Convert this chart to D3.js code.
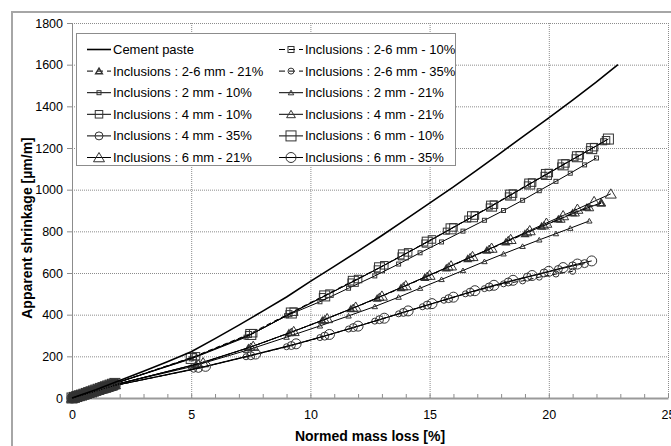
<!DOCTYPE html>
<html>
<head>
<meta charset="utf-8">
<script src="https://cdn.jsdelivr.net/npm/d3@7"></script>
<style>
  body { margin: 0; background: #fff; }
  svg text { font-family: Arial, "Liberation Sans", sans-serif; fill: #000; }
</style>
</head>
<body>
<script>
const width = 671, height = 446;
const margin = { top: 23, right: 3, bottom: 48, left: 72 };

const xTicks = [0, 5, 10, 15, 20, 25];
const yTicks = [0, 200, 400, 600, 800, 1000, 1200, 1400, 1600, 1800];
const xAxisLabel = 'Normed mass loss [%]';
const yAxisLabel = 'Apparent shrinkage [µm/m]';

// cement paste, no markers
const cementX = [0, 1, 2, 3, 4, 5, 6, 7, 8, 9, 10, 11, 12, 13, 14, 15, 16, 17, 18, 19, 20, 21, 22, 22.9];
const cementY = [0, 40, 84, 128, 174, 222, 285, 350, 417, 485, 560, 632, 705, 780, 857, 935, 1013, 1095, 1178, 1262, 1345, 1430, 1517, 1600];

// first drying points (dense), same for every mix of a group
const startX = [0, 0.1, 0.2, 0.3, 0.4, 0.5, 0.6, 0.7, 0.8, 0.9, 1.0, 1.1, 1.2, 1.3, 1.4, 1.5, 1.6, 1.7, 1.8];
const startSquare = [0, 3, 7, 11, 14, 18, 22, 26, 30, 34, 38, 42, 46, 50, 54, 58, 62, 66, 70];
const startTriangle = [0, 3, 6, 10, 13, 17, 20, 24, 27, 31, 35, 38, 42, 45, 49, 53, 57, 60, 64];
const startCircle = [0, 3, 6, 9, 13, 16, 19, 23, 26, 29, 33, 36, 40, 43, 47, 50, 53, 57, 60];

const inc26_10X = [5.1, 7.4, 9.1, 10.5, 11.7, 12.8, 13.8, 14.8, 15.7, 16.6, 17.5, 18.3, 19.1, 19.8, 20.5, 21.1, 21.7, 22.3];
const inc26_10Y = [198, 305, 405, 487, 557, 620, 682, 744, 801, 859, 917, 970, 1023, 1069, 1114, 1153, 1192, 1230];
const inc26_21X = [5.2, 7.4, 9.1, 10.5, 11.7, 12.8, 13.8, 14.8, 15.7, 16.6, 17.4, 18.2, 19.0, 19.7, 20.4, 21.0, 21.6, 22.2];
const inc26_21Y = [160, 240, 312, 372, 427, 478, 528, 578, 623, 668, 708, 748, 788, 824, 858, 888, 915, 935];
const inc26_35X = [5.1, 7.3, 9.0, 10.4, 11.6, 12.7, 13.7, 14.7, 15.6, 16.5, 17.3, 18.1, 18.9, 19.6, 20.3, 21.0];
const inc26_35Y = [138, 198, 246, 290, 331, 369, 404, 438, 469, 500, 525, 548, 562, 580, 595, 608];
const inc2_10X = [5.0, 7.3, 9.0, 10.4, 11.6, 12.7, 13.7, 14.6, 15.5, 16.4, 17.3, 18.1, 18.9, 19.6, 20.3, 20.9, 21.5, 22.0];
const inc2_10Y = [188, 292, 395, 462, 527, 586, 643, 697, 749, 801, 853, 900, 949, 995, 1040, 1079, 1119, 1152];
const inc2_21X = [5.0, 7.3, 9.0, 10.4, 11.6, 12.7, 13.7, 14.6, 15.5, 16.4, 17.3, 18.1, 18.9, 19.6, 20.3, 20.9, 21.7];
const inc2_21Y = [150, 228, 292, 346, 394, 439, 484, 527, 569, 612, 655, 692, 728, 759, 789, 815, 850];
const inc4_10X = [5.2, 7.6, 9.3, 10.8, 12.0, 13.1, 14.1, 15.1, 16.0, 16.9, 17.7, 18.5, 19.3, 20.0, 20.7, 21.3, 21.9, 22.4];
const inc4_10Y = [200, 311, 414, 501, 571, 637, 699, 761, 819, 876, 928, 981, 1034, 1080, 1126, 1165, 1204, 1237];
const inc4_21X = [5.3, 7.5, 9.2, 10.6, 11.8, 12.9, 13.9, 14.9, 15.8, 16.7, 17.5, 18.3, 19.1, 19.8, 20.5, 21.1, 21.7, 22.2];
const inc4_21Y = [165, 245, 316, 377, 432, 485, 535, 585, 630, 675, 715, 757, 795, 828, 860, 890, 915, 938];
const inc4_35X = [5.3, 7.5, 9.2, 10.6, 11.8, 12.9, 13.9, 14.9, 15.8, 16.7, 17.5, 18.3, 19.1, 19.8, 20.4, 21.0, 21.5];
const inc4_35Y = [142, 203, 252, 297, 338, 376, 411, 446, 477, 508, 533, 557, 580, 600, 617, 634, 645];
const inc6_10X = [5.0, 7.5, 9.2, 10.6, 11.8, 12.9, 13.9, 14.9, 15.9, 16.8, 17.6, 18.4, 19.2, 19.9, 20.6, 21.2, 21.8, 22.5];
const inc6_10Y = [190, 305, 408, 490, 560, 625, 687, 748, 812, 870, 921, 974, 1027, 1073, 1119, 1158, 1197, 1243];
const inc6_21X = [5.5, 7.6, 9.3, 10.7, 11.9, 13.0, 14.0, 15.0, 15.9, 16.8, 17.6, 18.4, 19.2, 19.9, 20.6, 21.2, 21.9, 22.6];
const inc6_21Y = [170, 249, 320, 382, 437, 490, 540, 590, 635, 680, 720, 762, 804, 840, 876, 907, 944, 980];
const inc6_35X = [5.6, 7.7, 9.4, 10.8, 12.0, 13.1, 14.1, 15.1, 16.0, 16.9, 17.7, 18.5, 19.3, 20.0, 20.6, 21.2, 21.8];
const inc6_35Y = [152, 211, 260, 305, 345, 383, 418, 453, 484, 515, 541, 565, 588, 608, 626, 643, 658];

const toPts = (xs, ys) => xs.map((v, i) => ({ x: v, y: ys[i] }));
const withStart = (sy, xs, ys) => toPts(startX, sy).concat(toPts(xs, ys));

const series = [
  { name: 'Cement paste', pts: toPts(cementX, cementY), shape: null, size: 0, dash: null, lw: 1.6 },
  { name: 'Inclusions : 2-6 mm - 10%', pts: withStart(startSquare, inc26_10X, inc26_10Y), shape: 'square', size: 6, dash: '5,3' },
  { name: 'Inclusions : 2-6 mm - 21%', pts: withStart(startTriangle, inc26_21X, inc26_21Y), shape: 'triangle', size: 6, dash: '5,3', mw: 1.5 },
  { name: 'Inclusions : 2-6 mm - 35%', pts: withStart(startCircle, inc26_35X, inc26_35Y), shape: 'circle', size: 6, dash: '5,3' },
  { name: 'Inclusions : 2 mm - 10%', pts: withStart(startSquare, inc2_10X, inc2_10Y), shape: 'square', size: 4, dash: null },
  { name: 'Inclusions : 2 mm - 21%', pts: withStart(startTriangle, inc2_21X, inc2_21Y), shape: 'triangle', size: 5, dash: null },
  { name: 'Inclusions : 4 mm - 10%', pts: withStart(startSquare, inc4_10X, inc4_10Y), shape: 'square', size: 7.5, dash: null },
  { name: 'Inclusions : 4 mm - 21%', pts: withStart(startTriangle, inc4_21X, inc4_21Y), shape: 'triangle', size: 8, dash: null },
  { name: 'Inclusions : 4 mm - 35%', pts: withStart(startCircle, inc4_35X, inc4_35Y), shape: 'circle', size: 8, dash: null },
  { name: 'Inclusions : 6 mm - 10%', pts: withStart(startSquare, inc6_10X, inc6_10Y), shape: 'square', size: 10, dash: null },
  { name: 'Inclusions : 6 mm - 21%', pts: withStart(startTriangle, inc6_21X, inc6_21Y), shape: 'triangle', size: 10, dash: null },
  { name: 'Inclusions : 6 mm - 35%', pts: withStart(startCircle, inc6_35X, inc6_35Y), shape: 'circle', size: 10, dash: null }
];

const svg = d3.select('body').append('svg')
  .attr('width', width)
  .attr('height', height);

// outer chart border
svg.append('rect')
  .attr('x', 12).attr('y', 12)
  .attr('width', width + 20).attr('height', height + 20)
  .attr('fill', 'none').attr('stroke', '#a6a6a6').attr('stroke-width', 2);

const xScale = d3.scaleLinear().domain([0, 25]).range([margin.left, width - margin.right]);
const yScale = d3.scaleLinear().domain([0, 1800]).range([height - margin.bottom, margin.top]);

// grid
svg.append('g').selectAll('line')
  .data(yTicks.slice(1))
  .enter().append('line')
  .attr('x1', xScale(0)).attr('x2', xScale(25))
  .attr('y1', d => yScale(d) + 0.5).attr('y2', d => yScale(d) + 0.5)
  .attr('stroke', '#8c8c8c').attr('stroke-dasharray', '1,1');
svg.append('g').selectAll('line')
  .data(xTicks.slice(1))
  .enter().append('line')
  .attr('y1', yScale(0)).attr('y2', yScale(1800))
  .attr('x1', d => xScale(d) + 0.5).attr('x2', d => xScale(d) + 0.5)
  .attr('stroke', '#8c8c8c').attr('stroke-dasharray', '1,1');

// axes
const yAxis = svg.append('g')
  .attr('transform', `translate(${margin.left},0)`)
  .call(d3.axisLeft(yScale).tickValues(yTicks).tickFormat(d3.format('d')).tickSize(5).tickPadding(4));
yAxis.select('.domain').attr('stroke', '#8c8c8c');
yAxis.selectAll('.tick line').attr('stroke', '#8c8c8c');
yAxis.selectAll('text').style('font-size', '12.5px');

const xMinor = svg.append('g')
  .attr('transform', `translate(0,${yScale(0)})`)
  .call(d3.axisTop(xScale).ticks(25).tickSize(4).tickFormat(''));
xMinor.select('.domain').remove();
xMinor.selectAll('.tick line').attr('stroke', '#8c8c8c');

const xAxis = svg.append('g')
  .attr('transform', `translate(0,${yScale(0)})`)
  .call(d3.axisBottom(xScale).tickValues(xTicks).tickSize(0).tickPadding(12));
xAxis.select('.domain').attr('stroke', '#9a9a9a').attr('stroke-width', 2);
xAxis.selectAll('text').style('font-size', '12.5px');

// series
const line = d3.line().x(d => xScale(d.x)).y(d => yScale(d.y));

const drawMarker = (g, shape, size, cx, cy, mw) => {
  const h = size / 2;
  const stroke = '#333', w = mw || 1;
  if (shape === 'square') {
    g.append('rect').attr('x', cx - h).attr('y', cy - h).attr('width', size).attr('height', size)
      .attr('fill', 'none').attr('stroke', stroke).attr('stroke-width', w);
  } else if (shape === 'triangle') {
    g.append('path').attr('d', `M${cx},${cy - h}L${cx + h * 1.1},${cy + h * 0.85}L${cx - h * 1.1},${cy + h * 0.85}Z`)
      .attr('fill', 'none').attr('stroke', stroke).attr('stroke-width', w);
  } else if (shape === 'circle') {
    g.append('circle').attr('cx', cx).attr('cy', cy).attr('r', h)
      .attr('fill', 'none').attr('stroke', stroke).attr('stroke-width', w);
  }
};

const plot = svg.append('g');
series.slice(1).concat(series.slice(0, 1)).forEach(s => {
  const g = plot.append('g');
  g.append('path')
    .attr('d', line(s.pts))
    .attr('fill', 'none')
    .attr('stroke', '#000')
    .attr('stroke-width', s.lw || 1)
    .attr('stroke-dasharray', s.dash);
  if (s.shape) {
    s.pts.forEach(p => drawMarker(g, s.shape, s.size, xScale(p.x), yScale(p.y), s.mw));
  }
});

// legend
const legend = svg.append('g');
legend.append('rect')
  .attr('x', 76.5).attr('y', 33.5).attr('width', 379).attr('height', 132)
  .attr('fill', '#fff').attr('stroke', '#8c8c8c');

series.forEach((s, i) => {
  const col = i % 2, row = Math.floor(i / 2);
  const x0 = col === 0 ? 87 : 279;
  const cy = 49.5 + row * 21.6;
  const g = legend.append('g');
  g.append('line')
    .attr('x1', x0).attr('x2', x0 + 24)
    .attr('y1', cy).attr('y2', cy)
    .attr('stroke', '#000').attr('stroke-width', s.lw || 1)
    .attr('stroke-dasharray', s.dash ? '6,4' : null);
  if (s.shape) drawMarker(g, s.shape, s.size, x0 + 12, cy, s.mw);
  g.append('text')
    .attr('x', x0 + 26).attr('y', cy)
    .attr('dominant-baseline', 'central')
    .style('font-size', '13px')
    .text(s.name);
});

// axis titles
svg.append('text')
  .attr('x', 370).attr('y', 441)
  .attr('text-anchor', 'middle')
  .style('font-size', '14px').style('font-weight', 'bold')
  .text(xAxisLabel);
svg.append('text')
  .attr('transform', 'translate(32,228) rotate(-90)')
  .attr('text-anchor', 'middle')
  .style('font-size', '14px').style('font-weight', 'bold')
  .text(yAxisLabel);
</script>
</body>
</html>
